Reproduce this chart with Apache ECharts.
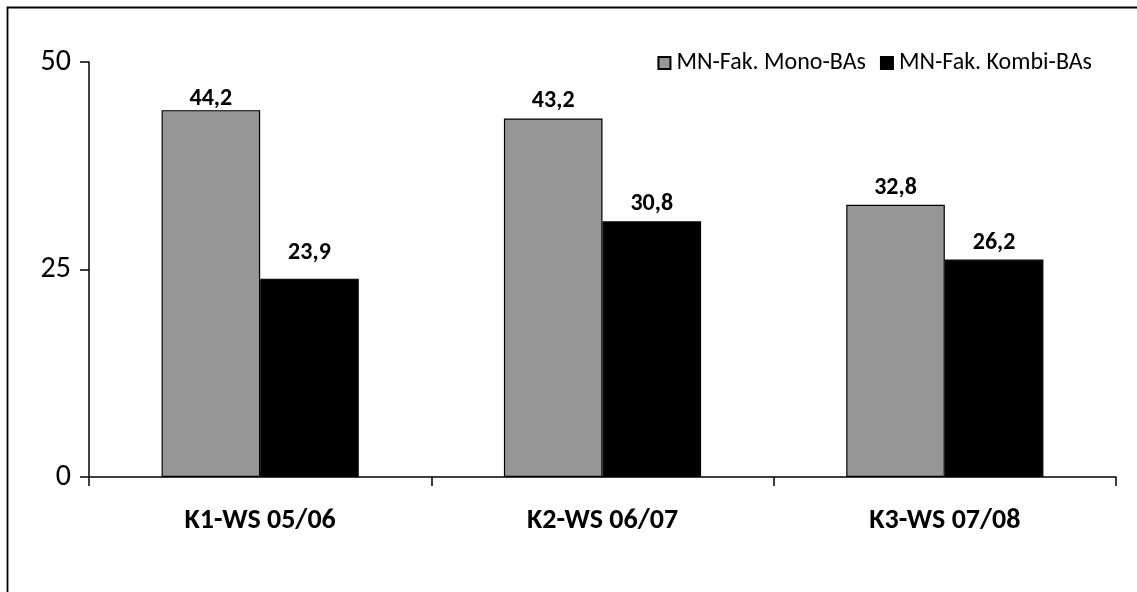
<!DOCTYPE html>
<html>
<head>
<meta charset="utf-8">
<script src="https://cdn.jsdelivr.net/npm/echarts@6/dist/echarts.min.js"></script>
<style>
  html, body { margin: 0; padding: 0; background: #fff; }
  #chart { width: 1137px; height: 592px; }
</style>
</head>
<body>
<div id="chart"></div>
<script>
// Cohorts (winter semesters) and the two factor values per cohort
const categories = ['K1-WS 05/06', 'K2-WS 06/07', 'K3-WS 07/08'];
const seriesNames = ['MN-Fak. Mono-BAs', 'MN-Fak. Kombi-BAs'];
const monoValues = [44.2, 43.2, 32.8];
const kombiValues = [23.9, 30.8, 26.2];
const yTicks = [0, 25, 50];

const FONT = 'Carlito, "Noto Sans", sans-serif';
const fmt = v => v.toFixed(1).replace('.', ',');

const chart = echarts.init(document.getElementById('chart'), null, { renderer: 'canvas' });

const valueLabel = {
  show: true,
  position: 'top',
  distance: 5,
  color: '#000',
  fontFamily: FONT,
  fontWeight: 'bold',
  fontSize: 24,
  formatter: p => fmt(p.value)
};

// a couple of labels sit slightly nearer / farther from their bar
const withLabelShift = (values, shifts) =>
  values.map((v, i) => (shifts[i] ? { value: v, label: { offset: [0, shifts[i]] } } : v));

chart.setOption({
  animation: false,
  backgroundColor: '#fff',
  graphic: [{
    type: 'rect',
    shape: { x: 7.5, y: 7.5, width: 1160, height: 620 },
    style: { fill: 'none', stroke: '#000', lineWidth: 1.8 },
    silent: true,
    z: 0
  }],
  grid: { left: 89, right: 21, top: 62, bottom: 115, containLabel: false },
  legend: {
    right: 40,
    top: 46,
    itemWidth: 12,
    itemHeight: 12,
    itemGap: 14,
    icon: 'rect',
    textStyle: { fontFamily: FONT, fontSize: 24, color: '#000', padding: [0, 0, 0, 1] },
    data: seriesNames
  },
  xAxis: {
    type: 'category',
    data: categories,
    axisLine: { lineStyle: { color: '#000', width: 1.5 } },
    axisTick: { show: true, length: 9, alignWithLabel: false, lineStyle: { color: '#000', width: 1.5 } },
    axisLabel: {
      margin: 30,
      color: '#000',
      fontFamily: FONT,
      fontWeight: 'bold',
      fontSize: 28
    }
  },
  yAxis: {
    type: 'value',
    min: 0,
    max: 50,
    interval: 25,
    axisLine: { show: true, lineStyle: { color: '#000', width: 1.5 } },
    axisTick: { show: true, length: 9, lineStyle: { color: '#000', width: 1.5 } },
    splitLine: { show: false },
    axisLabel: {
      margin: 18,
      color: '#000',
      fontFamily: FONT,
      fontSize: 30,
      formatter: v => (yTicks.includes(v) ? String(v) : '')
    }
  },
  series: [
    {
      name: seriesNames[0],
      type: 'bar',
      data: withLabelShift(monoValues, [6, 0, 0]),
      barGap: '0%',
      barCategoryGap: '42.4%',
      itemStyle: { color: '#969696', borderColor: '#000', borderWidth: 1.2 },
      label: valueLabel
    },
    {
      name: seriesNames[1],
      type: 'bar',
      data: withLabelShift(kombiValues, [-9, 0, 0]),
      barGap: '0%',
      barCategoryGap: '42.4%',
      itemStyle: { color: '#000', borderColor: '#000', borderWidth: 1.2 },
      label: valueLabel
    }
  ]
});
</script>
</body>
</html>
